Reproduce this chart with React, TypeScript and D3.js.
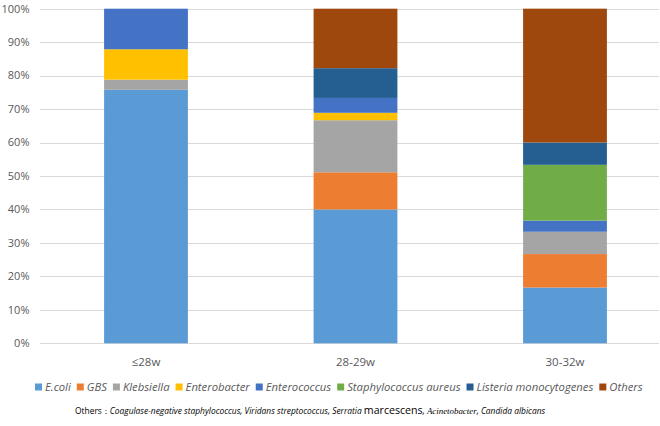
import React, { useEffect, useRef } from "react";
import * as d3 from "d3";

const categories = ["≤28w", "28-29w", "30-32w"];
const seriesNames = ["E.coli", "GBS", "Klebsiella", "Enterobacter", "Enterococcus", "Staphylococcus aureus", "Listeria monocytogenes", "Others"];
const seriesColors = ["#5B9BD5", "#ED7D31", "#A5A5A5", "#FFC000", "#4472C4", "#70AD47", "#255E91", "#9E480E"];
// percentages per category, in series order
const ecoli = [75.76, 40.0, 16.67];
const gbs = [0, 11.11, 10.0];
const klebsiella = [3.03, 15.56, 6.67];
const enterobacter = [9.09, 2.22, 0];
const enterococcus = [12.12, 4.44, 3.33];
const staphAureus = [0, 0, 16.67];
const listeria = [0, 8.89, 6.67];
const others = [0, 17.78, 40.0];
const yTicks = [0, 10, 20, 30, 40, 50, 60, 70, 80, 90, 100];

const W = 660, H = 426;
const FONT = "'Open Sans', 'Noto Sans', sans-serif";

export default function App() {
  const ref = useRef<SVGSVGElement | null>(null);
  useEffect(() => {
    const svg = d3.select(ref.current);
    svg.selectAll("*").remove();
    const top = 8.7, bottom = 343.3, left = 40, right = 659;
    const y = d3.scaleLinear().domain([0, 100]).range([bottom, top]);
    const x = d3.scaleBand<string>().domain(categories).range([41.25, 669.75]).paddingInner(0.6).paddingOuter(0.3);

    const rows = categories.map((c, i) => {
      const r: any = { cat: c };
      const vals = [ecoli, gbs, klebsiella, enterobacter, enterococcus, staphAureus, listeria, others];
      seriesNames.forEach((s, k) => (r[s] = vals[k][i]));
      return r;
    });
    const stack = d3.stack().keys(seriesNames)(rows);

    // gridlines
    svg.append("g").selectAll("line").data(yTicks).join("line")
      .attr("x1", left).attr("x2", right)
      .attr("y1", (d) => Math.round(y(d)) + 0.5).attr("y2", (d) => Math.round(y(d)) + 0.5)
      .attr("stroke", "#D9D9D9").attr("stroke-width", 1);

    // y labels
    svg.append("g").selectAll("text").data(yTicks).join("text")
      .attr("x", 29.5).attr("y", (d) => y(d)).attr("dy", "0.35em")
      .attr("text-anchor", "end").attr("font-family", FONT).attr("font-size", 11)
      .attr("fill", "#595959").text((d) => d + "%");

    // bars
    const gBars = svg.append("g");
    stack.forEach((layer, k) => {
      gBars.append("g").attr("fill", seriesColors[k]).selectAll("rect").data(layer).join("rect")
        .attr("x", (d: any) => x(d.data.cat)!)
        .attr("width", x.bandwidth())
        .attr("y", (d) => y(d[1]))
        .attr("height", (d) => Math.max(0, y(d[0]) - y(d[1])));
    });

    // x labels
    svg.append("g").selectAll("text").data(categories).join("text")
      .attr("x", (d) => x(d)! + x.bandwidth() / 2).attr("y", 366)
      .attr("text-anchor", "middle").attr("font-family", FONT).attr("font-size", 11.5)
      .attr("fill", "#595959").text((d) => d);

    // legend
    const lg = svg.append("g");
    const items = lg.selectAll("g").data(seriesNames).join("g");
    const sq = 7, sqGap = 3, itemGap = 6;
    items.append("rect").attr("width", sq).attr("height", sq).attr("fill", (d, i) => seriesColors[i]);
    const texts = items.append("text").attr("font-family", FONT).attr("font-style", "italic")
      .attr("font-size", 12).attr("fill", "#595959").text((d) => d);
    const measure = () => {
      const ws: number[] = [];
      texts.each(function () { ws.push((this as SVGTextElement).getComputedTextLength()); });
      return ws;
    };
    let ws = measure();
    const targetText = 608 - seriesNames.length * (sq + sqGap) - (seriesNames.length - 1) * itemGap;
    const sum = d3.sum(ws);
    const fs = 12 * targetText / sum;
    texts.attr("font-size", fs);
    ws = measure();
    let cx = 35;
    items.each(function (d, i) {
      const g = d3.select(this);
      g.select("rect").attr("x", cx).attr("y", 387 - sq / 2);
      g.select("text").attr("x", cx + sq + sqGap).attr("y", 387).attr("dy", "0.35em");
      cx += sq + sqGap + ws[i] + itemGap;
    });

    // footnote
    const ft = svg.append("text").attr("x", 75).attr("y", 413.5).attr("font-family", FONT)
      .attr("font-size", 9.5).attr("fill", "#000");
    ft.append("tspan").text("Others：");
    ft.append("tspan").attr("font-style", "italic").text("Coagulase-negative staphylococcus, Viridans streptococcus, Serratia ");
    ft.append("tspan").attr("font-size", 12).text("marcescens");
    ft.append("tspan").attr("font-style", "italic").text(", ");
    ft.append("tspan").attr("font-style", "italic").attr("font-family", "'Liberation Serif', serif").attr("font-size", 10).text("Acinetobacter");
    ft.append("tspan").attr("font-style", "italic").text(", Candida albicans");
    const fw = (ft.node() as SVGTextElement).getComputedTextLength();
    const scale = 472 / fw;
    ft.selectAll("tspan").each(function () {
      const t = d3.select(this);
      const f = t.attr("font-size");
      if (f) t.attr("font-size", +f * scale);
    });
    ft.attr("font-size", 9.5 * scale);
  }, []);
  return (
    <svg ref={ref} width={W} height={H} style={{ display: "block", position: "absolute", left: 0, top: 0, background: "#fff" }} />
  );
}
